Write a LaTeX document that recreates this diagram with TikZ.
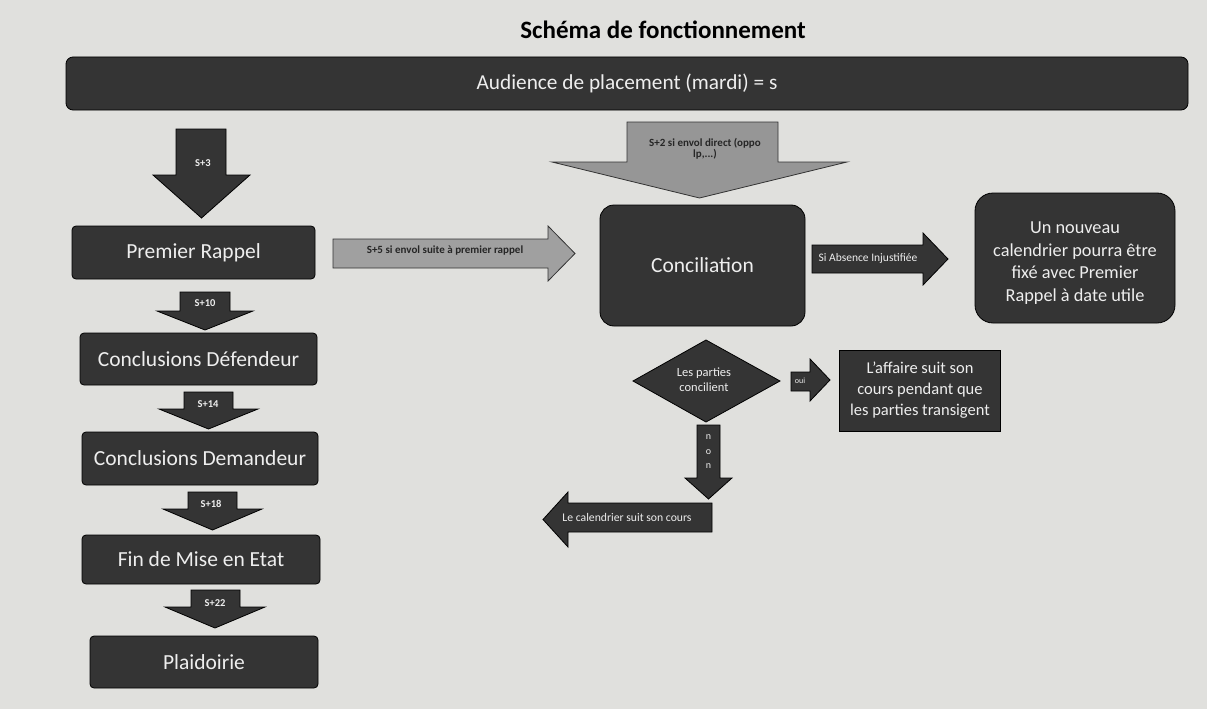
\documentclass[tikz,border=0pt]{standalone}
\usepackage{fontspec}
\setmainfont{Carlito}
\definecolor{bg}{RGB}{224,224,221}
\definecolor{dk}{RGB}{52,52,52}
\definecolor{mgA}{RGB}{150,150,150}
\definecolor{mgB}{RGB}{160,160,160}
\definecolor{wt}{RGB}{238,238,238}
\newcommand\blkdown[8]{% style, xl, xr, ytop, yhead, hl, hr, ytip
  \draw[#1] (#2,#4) -- (#3,#4) -- (#3,#5) -- (#7,#5) -- ({(#6+#7)/2},#8) -- (#6,#5) -- (#2,#5) -- cycle;}
\newcommand\blkright[8]{% style, xl, xh, ytop, ybot, htop, hbot, xtip
  \draw[#1] (#2,#4) -- (#3,#4) -- (#3,#6) -- (#8,{(#6+#7)/2}) -- (#3,#7) -- (#3,#5) -- (#2,#5) -- cycle;}
\newcommand\blkleft[8]{% style, xr, xh, ytop, ybot, htop, hbot, xtip
  \draw[#1] (#2,#4) -- (#3,#4) -- (#3,#6) -- (#8,{(#6+#7)/2}) -- (#3,#7) -- (#3,#5) -- (#2,#5) -- cycle;}
\begin{document}
\begin{tikzpicture}[x=1pt,y=-1pt,
  box/.style={fill=dk,draw=black,line width=0.8pt,text=wt,inner sep=0pt,
    font=\fontsize{21.5}{24}\selectfont},
  arr/.style={fill=dk,draw=black,line width=0.8pt,line join=miter},
  garrA/.style={fill=mgA,draw=black!80,line width=0.8pt,line join=miter},
  garrB/.style={fill=mgB,draw=black!80,line width=0.8pt,line join=miter},
  lbl/.style={text=wt,inner sep=0pt,font=\bfseries\fontsize{10.5}{11}\selectfont},
  dlbl/.style={text=black!85,inner sep=0pt,font=\bfseries\fontsize{11}{11}\selectfont,align=center}]
\fill[bg] (0,0) rectangle (1207,709);
\useasboundingbox (0,0) rectangle (1207,709);

% title
\node[font=\bfseries\fontsize{25}{28}\selectfont] (title) at (663,30) {Schéma de fonctionnement};

% top bar
\node[box,rounded corners=7pt,minimum width=1122,minimum height=53,font=\fontsize{21.3}{24}\selectfont] (aud) at (627,83.5) {Audience de placement (mardi) = s};

% left column
\blkdown{arr}{176}{226}{129}{175}{153}{250}{218}
\node[lbl] (s3) at (203,163) {S+3};
\node[box,rounded corners=4pt,minimum width=243,minimum height=53] (pr) at (193.5,252.5) {Premier Rappel};

\blkdown{arr}{180}{230}{292}{311}{157}{253}{330}
\node[lbl] (s10) at (205,303) {S+10};
\node[box,rounded corners=4pt,minimum width=237,minimum height=52] (cdf) at (198.5,359) {Conclusions Défendeur};

\blkdown{arr}{184}{233}{392}{409}{159}{258}{429}
\node[lbl] (s14) at (208,404) {S+14};
\node[box,rounded corners=4pt,minimum width=236,minimum height=53] (cdm) at (200,458.5) {Conclusions Demandeur};

\blkdown{arr}{188}{237}{492}{509}{163}{262}{530}
\node[lbl] (s18) at (211,504) {S+18};
\node[box,rounded corners=4pt,minimum width=238,minimum height=49] (fme) at (201,559.5) {Fin de Mise en Etat};

\blkdown{arr}{191}{240}{590}{607}{165}{265}{628}
\node[lbl] (s22) at (215,603) {S+22};
\node[box,rounded corners=4pt,minimum width=228,minimum height=52] (pl) at (204,662) {Plaidoirie};

% S+5 arrow
\blkright{garrB}{333}{548}{239}{268}{226}{281}{575}
\node[dlbl] (s5) at (445,251) {S+5 si envol suite à premier rappel};

% S+2 arrow
\blkdown{garrA}{627}{778}{122}{162}{552}{847}{198}
\node[dlbl] (s2) at (705,149) {S+2 si envol direct (oppo\\lp,...)};

% Conciliation
\node[box,rounded corners=14pt,minimum width=205,minimum height=121] (conc) at (702.5,265.5) {Conciliation};

% Si absence arrow
\blkright{arr}{812}{923}{245}{273}{233}{285}{948}
\node[text=wt,inner sep=0pt,font=\fontsize{11.5}{12}\selectfont] (abs) at (868,258) {Si Absence Injustifiée};

% Un nouveau calendrier
\draw[fill=dk,draw=black,line width=0.8pt,rounded corners=18pt] (975,193) rectangle (1175,323);
\node[text=wt,inner sep=0pt,align=center,
  font=\fontsize{18.3}{22.5}\selectfont] (nc) at (1075,263) {Un nouveau\\calendrier pourra être\\fixé avec Premier\\Rappel à date utile};

% diamond
\draw[fill=dk,draw=black,line width=0.8pt] (633,381) -- (706,340) -- (780,381) -- (706,422) -- cycle;
\node[text=wt,align=center,inner sep=0pt,font=\fontsize{12.5}{15}\selectfont] (dia) at (704,380) {Les parties\\concilient};

% oui arrow
\blkright{arr}{791}{810}{372}{391}{359}{401}{830}
\node[lbl,font=\fontsize{8}{9}\selectfont] (oui) at (800,381) {oui};

% L'affaire box
\node[box,minimum width=161,minimum height=81,align=center,
  font=\fontsize{16.5}{21}\selectfont] (aff) at (920,390.5) {L'affaire suit son\\cours pendant que\\les parties transigent};

% non arrow
\blkdown{arr}{697}{720}{425}{478}{685}{732}{499}
\node[lbl,font=\fontsize{10}{10}\selectfont] (n1) at (708.5,437) {n};
\node[lbl,font=\fontsize{10}{10}\selectfont] (n2) at (708.5,452) {o};
\node[lbl,font=\fontsize{10}{10}\selectfont] (n3) at (708.5,466) {n};

% le calendrier arrow
\blkleft{arr}{712}{568}{503}{532}{492}{547}{543}
\node[text=wt,inner sep=0pt,font=\fontsize{11.7}{12}\selectfont] (lc) at (627,517) {Le calendrier suit son cours};
\end{tikzpicture}
\end{document}
